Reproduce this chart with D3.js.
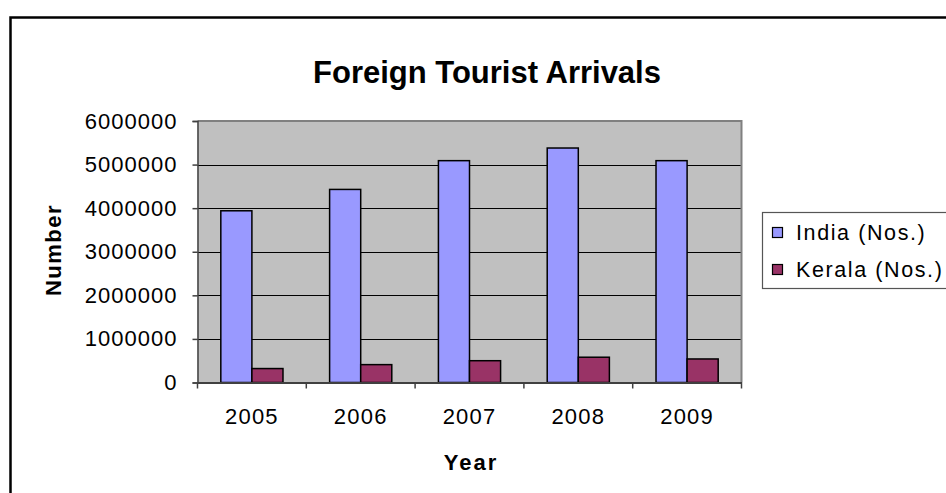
<!DOCTYPE html>
<html>
<head>
<meta charset="utf-8">
<script src="https://cdn.jsdelivr.net/npm/d3@7"></script>
<style>
  html, body { margin: 0; padding: 0; background: #fff; }
  svg { display: block; font-family: "Liberation Sans", Arial, sans-serif; }
</style>
</head>
<body>
<svg id="chart" width="946" height="493"></svg>
<script>
const years = ["2005", "2006", "2007", "2008", "2009"];
const seriesNames = ["India (Nos.)", "Kerala (Nos.)"];
const india = [3940000, 4430000, 5090000, 5380000, 5090000];
const kerala = [320000, 410000, 500000, 580000, 540000];
const yTicks = [0, 1000000, 2000000, 3000000, 4000000, 5000000, 6000000];
const colors = ["#9999FF", "#993366"];

const svg = d3.select("#chart");
svg.append("rect").attr("width", 946).attr("height", 493).attr("fill", "#fff");

// outer chart border (left + top visible, rest cut off)
svg.append("path")
  .attr("d", "M10.5,500 L10.5,17.5 L950,17.5")
  .attr("fill", "none").attr("stroke", "#000").attr("stroke-width", 2.5);

const P = { left: 197.5, right: 741.5, top: 121, bottom: 382.5 };

const x = d3.scaleBand().domain(years).range([P.left, P.right]).padding(0);
const xs = d3.scaleBand().domain(seriesNames).range([0, x.bandwidth()]).paddingInner(0).paddingOuter(0.75);
const y = d3.scaleLinear().domain([0, 6000000]).range([P.bottom, P.top]);

// plot background
svg.append("rect")
  .attr("x", P.left).attr("y", P.top)
  .attr("width", P.right - P.left).attr("height", P.bottom - P.top)
  .attr("fill", "#C0C0C0");

// gridlines
svg.append("g").selectAll("line").data(yTicks.slice(1, -1)).join("line")
  .attr("x1", P.left).attr("x2", P.right)
  .attr("y1", d => Math.round(y(d)) + 0.5).attr("y2", d => Math.round(y(d)) + 0.5)
  .attr("stroke", "#000").attr("stroke-width", 1);

// plot border top/right
svg.append("path")
  .attr("d", `M${P.left},${P.top} L${P.right},${P.top} L${P.right},${P.bottom}`)
  .attr("fill", "none").attr("stroke", "#808080").attr("stroke-width", 2);

// bars
const data = years.map((yr, i) => ({ yr, vals: [india[i], kerala[i]] }));
const groups = svg.append("g").selectAll("g").data(data).join("g")
  .attr("transform", d => `translate(${x(d.yr)},0)`);
groups.selectAll("rect").data(d => d.vals.map((v, j) => ({ v, s: seriesNames[j], j }))).join("rect")
  .attr("x", d => xs(d.s))
  .attr("y", d => y(d.v))
  .attr("width", xs.bandwidth())
  .attr("height", d => y(0) - y(d.v))
  .attr("fill", d => colors[d.j])
  .attr("stroke", "#000").attr("stroke-width", 1.5);

// y axis
const yAxis = d3.axisLeft(y).tickValues(yTicks).tickFormat(d3.format("d")).tickSize(5).tickPadding(15);
const gy = svg.append("g").attr("transform", `translate(${P.left},0)`).call(yAxis);
gy.select(".domain").attr("stroke", "#404040").attr("stroke-width", 1.5);
gy.selectAll(".tick line").attr("stroke", "#404040").attr("stroke-width", 1.5);
gy.selectAll(".tick text")
  .attr("font-size", 22).attr("fill", "#000").attr("letter-spacing", "1px")
  .attr("font-family", "Liberation Sans, Arial, sans-serif");

// x axis
const xAxis = d3.axisBottom(x).tickSize(0).tickPadding(0);
const gx = svg.append("g").attr("transform", `translate(0,${P.bottom})`).call(xAxis);
gx.select(".domain").attr("stroke", "#404040").attr("stroke-width", 2);
gx.selectAll(".tick text")
  .attr("font-size", 22).attr("fill", "#000").attr("letter-spacing", "1.2px")
  .attr("dy", 0).attr("y", 41.5)
  .attr("font-family", "Liberation Sans, Arial, sans-serif");
// category boundary ticks
gx.append("g").selectAll("line").data(years.concat(["end"])).join("line")
  .attr("x1", (d, i) => i < years.length ? x(d) : P.right)
  .attr("x2", (d, i) => i < years.length ? x(d) : P.right)
  .attr("y1", 0).attr("y2", 6)
  .attr("stroke", "#404040").attr("stroke-width", 1.5);

// title
svg.append("text")
  .attr("x", 487).attr("y", 83)
  .attr("text-anchor", "middle")
  .attr("font-size", 31).attr("font-weight", "bold")
  .text("Foreign Tourist Arrivals");

// axis titles
svg.append("text")
  .attr("transform", "translate(61,250) rotate(-90)")
  .attr("text-anchor", "middle")
  .attr("font-size", 22).attr("font-weight", "bold").attr("letter-spacing", "1.5px")
  .text("Number");

svg.append("text")
  .attr("x", 471).attr("y", 470)
  .attr("text-anchor", "middle")
  .attr("font-size", 22).attr("font-weight", "bold").attr("letter-spacing", "2px")
  .text("Year");

// legend
const L = { x: 762.5, y: 212.5, h: 76 };
svg.append("rect")
  .attr("x", L.x).attr("y", L.y).attr("width", 200).attr("height", L.h)
  .attr("fill", "#fff").attr("stroke", "#555").attr("stroke-width", 1.2);
const lg = svg.append("g").selectAll("g").data(seriesNames).join("g")
  .attr("transform", (d, i) => `translate(${L.x},${L.y + 27 + i * 37})`);
lg.append("rect")
  .attr("x", 10).attr("y", -12).attr("width", 10).attr("height", 10)
  .attr("fill", (d, i) => colors[i]).attr("stroke", "#000").attr("stroke-width", 1.2);
lg.append("text")
  .attr("x", 33.5).attr("y", 0)
  .attr("font-size", 21.5).attr("letter-spacing", "1.6px")
  .text(d => d);
</script>
</body>
</html>
